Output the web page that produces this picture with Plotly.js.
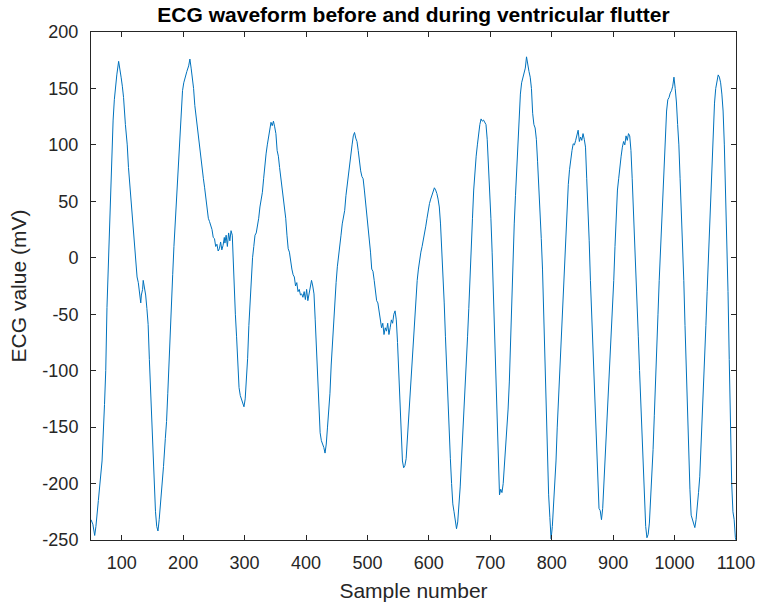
<!DOCTYPE html>
<html>
<head>
<meta charset="utf-8">
<script src="https://cdn.plot.ly/plotly-3.0.1.min.js"></script>
<style>
html,body{margin:0;padding:0;background:#fff;}
#chart{width:759px;height:605px;}
</style>
</head>
<body>
<div id="chart"></div>
<script>
const sampleNumber = [50,53,56,58,62,65,68,72,74,76,78,80,82,84,86,88,90,92,95,97,99,101,103,106,109,111,114,116,119,121,123,125,127,129,131,132,134,135,137,139,141,143,145,147,149,151,153,155,157,159,161,163,165,168,171,173,175,177,179,181,183,185,187,189,191,193,195,197,199,201,203,206,209,211,213,215,217,219,221,223,225,227,229,231,233,235,237,239,241,243,245,247,249,251,253,255,257,259,261,263,265,267,268,270,272,274,276,278,280,281,283,285,287,289,291,293,295,297,299,301,303,305,307,309,311,313,315,317,319,321,323,325,327,329,331,333,335,337,339,341,343,345,347,349,351,353,355,357,359,361,363,365,367,369,371,373,375,377,379,381,383,385,387,389,391,393,395,397,399,401,403,405,407,409,411,413,415,417,419,421,423,425,427,429,431,433,435,437,439,441,443,445,447,449,451,453,455,457,459,461,463,465,467,469,471,473,475,477,479,481,483,485,487,489,491,493,495,497,499,501,503,505,507,509,511,513,515,517,519,521,523,525,527,529,531,533,535,537,539,541,543,545,547,549,551,553,555,557,559,561,563,565,567,569,571,573,575,577,579,581,583,585,587,589,591,593,595,597,599,601,603,605,607,609,611,613,615,617,619,621,623,625,627,629,631,633,635,637,639,641,643,645,647,649,651,653,655,657,659,661,663,665,667,669,671,673,675,677,679,681,683,685,687,689,691,693,695,697,699,701,703,705,707,709,711,713,715,717,719,721,723,725,727,729,731,733,735,737,739,741,743,745,747,749,751,753,755,757,759,761,763,765,767,769,771,773,775,777,779,781,783,785,787,789,791,793,795,797,799,801,803,805,807,809,811,813,815,817,819,821,823,825,827,829,831,833,835,837,839,841,843,845,847,849,851,853,855,857,859,861,863,865,867,869,871,873,875,877,879,881,883,885,887,889,891,893,895,897,899,901,903,905,907,909,911,913,915,917,919,921,923,925,927,929,931,933,935,937,939,941,943,945,947,949,951,953,955,957,959,961,963,965,967,969,971,973,975,977,979,981,983,985,987,989,991,993,995,997,999,1001,1003,1005,1007,1009,1011,1013,1015,1017,1019,1021,1023,1025,1027,1029,1031,1033,1035,1037,1039,1041,1043,1045,1047,1049,1051,1053,1055,1057,1059,1061,1063,1065,1067,1069,1071,1073,1075,1077,1079,1081,1083,1085,1087,1089,1091,1093,1095,1097,1099,1100];
const ecgValue = [-232,-236,-246,-238,-215,-200,-180,-130,-100,-44,-10,30,55,95,122,140,155,162,174,168,160,152,142,118,100,80,60,40,26,10,-5,-17,-22,-30,-40,-33,-28,-20,-26,-33,-45,-59,-90,-120,-150,-180,-205,-225,-238,-242,-232,-220,-208,-185,-160,-145,-120,-90,-65,-44,-15,10,30,48,75,100,120,135,148,155,160,165,170,176,168,160,150,135,125,115,110,100,90,80,70,62,52,45,35,32,28,25,18,17,10,12,6,8,14,7,11,18,13,20,10,22,15,24,20,2,-25,-50,-70,-95,-115,-122,-125,-128,-132,-125,-110,-89,-60,-35,-14,0,10,20,22,28,35,45,52,58,70,85,92,100,108,114,120,117,121,116,110,95,90,80,72,60,55,48,35,20,8,5,-5,-10,-15,-17,-25,-22,-30,-28,-33,-32,-35,-30,-37,-28,-38,-33,-28,-20,-25,-32,-55,-80,-110,-130,-155,-162,-165,-168,-173,-165,-150,-138,-120,-95,-75,-55,-40,-22,-8,0,12,20,30,35,42,55,65,75,85,92,100,108,111,106,103,95,85,77,72,70,60,50,40,30,18,5,-10,-12,-20,-30,-38,-40,-48,-55,-62,-58,-68,-62,-65,-58,-68,-62,-55,-58,-50,-47,-55,-75,-100,-130,-160,-180,-186,-184,-178,-160,-140,-120,-100,-88,-74,-55,-35,-20,-10,0,5,10,15,20,28,35,44,48,52,55,58,62,60,57,52,45,30,10,-15,-40,-70,-100,-130,-155,-178,-200,-218,-225,-232,-240,-234,-220,-203,-180,-160,-140,-119,-95,-70,-45,-14,10,35,60,77,90,100,110,118,123,121,122,120,118,105,85,62,35,5,-30,-59,-100,-140,-179,-210,-205,-208,-200,-185,-165,-150,-134,-110,-70,-35,0,30,55,77,100,125,145,155,160,162,168,178,170,165,160,150,128,118,115,105,85,65,40,17,-10,-50,-89,-130,-180,-210,-230,-249,-238,-220,-203,-180,-150,-125,-100,-75,-45,-20,5,30,50,65,78,88,95,101,100,104,110,113,103,107,104,110,105,98,70,47,15,-20,-50,-74,-110,-150,-179,-210,-222,-224,-232,-222,-200,-180,-160,-140,-115,-90,-70,-45,-20,10,40,60,70,82,90,98,103,100,108,104,110,108,95,70,45,20,-10,-40,-70,-100,-130,-160,-194,-220,-238,-248,-245,-235,-215,-195,-170,-140,-115,-85,-50,-20,5,30,60,90,115,130,140,142,146,148,152,160,150,138,118,100,70,45,15,-20,-60,-100,-140,-175,-205,-228,-232,-236,-239,-232,-222,-208,-194,-170,-145,-115,-89,-60,-30,0,32,65,95,118,137,150,158,162,160,155,145,130,100,60,20,-30,-90,-150,-200,-225,-232,-248,-250];
const xTickVals = [100,200,300,400,500,600,700,800,900,1000,1100];
const xTickText = ['100','200','300','400','500','600','700','800','900','1000','1100'];
const yTickVals = [-250,-200,-150,-100,-50,0,50,100,150,200];
const yTickText = ['-250','-200','-150','-100','-50','0','50','100','150','200'];

const FONT = 'Liberation Sans, Arial, Helvetica, sans-serif';
const AX = '#262626';

const trace = {
  x: sampleNumber, y: ecgValue, type: 'scatter', mode: 'lines',
  line: {color: '#0072BD', width: 1}, hoverinfo: 'skip'
};

const axisCommon = {
  showgrid: false, zeroline: false, showline: true, linecolor: AX, linewidth: 1,
  mirror: 'ticks', ticks: 'inside', ticklen: 5, tickwidth: 1, tickcolor: AX,
  tickfont: {family: FONT, size: 18, color: AX}
};

const layout = {
  width: 759, height: 605,
  margin: {l: 91, r: 23, t: 32, b: 65},
  paper_bgcolor: '#ffffff', plot_bgcolor: '#ffffff',
  showlegend: false,
  title: {
    text: '<b>ECG waveform before and during ventricular flutter</b>',
    font: {family: FONT, size: 21, color: '#000000'},
    x: 0.5, xref: 'paper', xanchor: 'center',
    y: 1 - 15/605, yref: 'container', yanchor: 'middle'
  },
  xaxis: Object.assign({}, axisCommon, {
    range: [50, 1100], tickmode: 'array', tickvals: xTickVals, ticktext: xTickText,
    ticklabelstandoff: 6,
    title: {text: 'Sample number', font: {family: FONT, size: 21, color: AX}, standoff: 11}
  }),
  yaxis: Object.assign({}, axisCommon, {
    range: [-250, 200], tickmode: 'array', tickvals: yTickVals, ticktext: yTickText,
    ticklabelstandoff: 8,
    title: {text: 'ECG value (mV)', font: {family: FONT, size: 21, color: AX}, standoff: 10}
  })
};

Plotly.newPlot('chart', [trace], layout, {staticPlot: true, displayModeBar: false});
</script>
</body>
</html>
